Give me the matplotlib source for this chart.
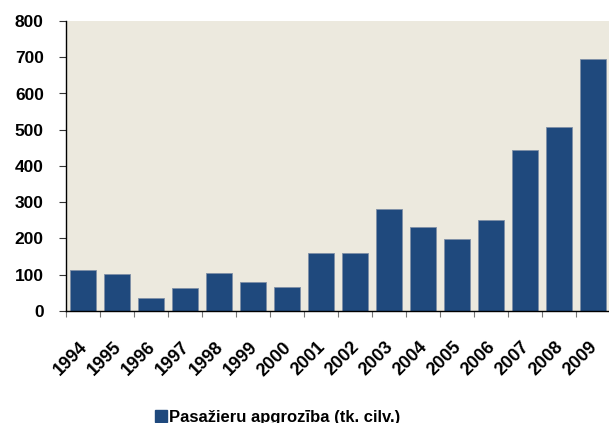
import matplotlib
matplotlib.use("Agg")
import matplotlib.pyplot as plt
from matplotlib.patches import Patch
from matplotlib.transforms import ScaledTranslation

years = ["1994", "1995", "1996", "1997", "1998", "1999", "2000", "2001",
         "2002", "2003", "2004", "2005", "2006", "2007", "2008", "2009"]
values = [112, 101, 37, 64, 104, 79, 65, 159, 159, 280, 232, 199, 250, 444, 507, 694]
series_name = "Pasažieru apgrozība (tk. cilv.)"
yticks = [0, 100, 200, 300, 400, 500, 600, 700, 800]

plt.rcParams['font.family'] = ['Liberation Sans', 'DejaVu Sans']
bar_color = "#1F497D"

fig = plt.figure(figsize=(6.09, 4.23), dpi=100)
ax = fig.add_axes([66/609, 1 - 311/423, 544/609, 290/423])
ax.set_facecolor("#ECE9DE")

x = list(range(len(years)))
ax.bar(x, values, width=0.79, color=bar_color, edgecolor="#7F8FA6", linewidth=0.6, zorder=2)

ax.set_xlim(-0.5, len(years) - 0.5)
ax.set_ylim(0, 800)
ax.set_yticks(yticks)
ax.set_yticklabels([str(v) for v in yticks], fontsize=12.5, fontweight="bold")
ax.tick_params(axis="y", direction="out", length=5, width=0.8, color="#333333", pad=11)

ax.set_xticks(x)
ax.set_xticklabels(years, rotation=45, ha="right", rotation_mode="anchor",
                   fontsize=13, fontweight="bold")
ax.tick_params(axis="x", length=0, pad=20)
offset = ScaledTranslation(-4/100, 0, fig.dpi_scale_trans)
for lbl in ax.get_xticklabels():
    lbl.set_transform(lbl.get_transform() + offset)
ax.set_xticks([i - 0.5 for i in range(len(years) + 1)], minor=True)
ax.tick_params(axis="x", which="minor", direction="out", length=4, width=0.8, color="#777777")

for s in ["top", "right"]:
    ax.spines[s].set_visible(False)
ax.spines["left"].set_color("black")
ax.spines["bottom"].set_color("black")
ax.spines["left"].set_linewidth(1.0)
ax.spines["bottom"].set_linewidth(1.0)

handle = [Patch(facecolor=bar_color, edgecolor=bar_color)]
fig.legend(handle, [series_name], loc="center", bbox_to_anchor=(278/609, 1 - 417/423),
           frameon=False, handlelength=0.7, handleheight=0.7, handletextpad=0.15,
           prop={"size": 12, "weight": "bold"})

fig.savefig("out.png", dpi=100)
